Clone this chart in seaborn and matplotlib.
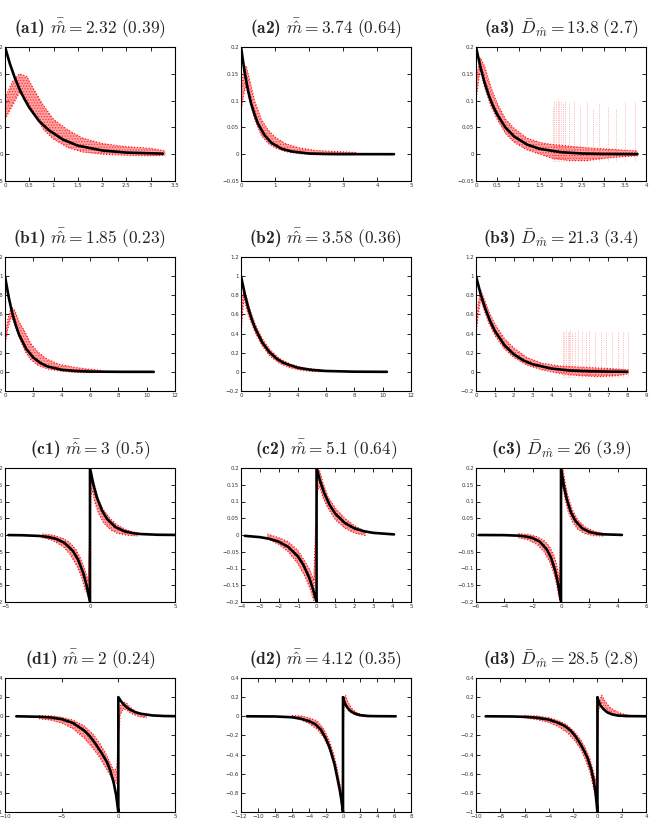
import matplotlib
matplotlib.use("Agg")
import matplotlib.pyplot as plt
import seaborn as sns

# ---- row a ----
a1_bx = [0, 0.1, 0.2, 0.3, 0.4, 0.5, 0.7, 0.9, 1.2, 1.5, 2.0, 2.5, 3.25]
a1_by = [0.2, 0.169, 0.143, 0.121, 0.103, 0.087, 0.062, 0.045, 0.027, 0.016, 0.007, 0.003, 0.001]
a1_rx = [0, 0.15, 0.3, 0.45, 0.6, 0.8, 1.0, 1.3, 1.6, 2.0, 2.5, 3.0, 3.3]
a1_lo = [0.065, 0.09, 0.115, 0.10, 0.075, 0.045, 0.028, 0.012, 0.004, 0.0, -0.002, -0.003, -0.002]
a1_hi = [0.105, 0.135, 0.15, 0.145, 0.12, 0.09, 0.065, 0.045, 0.03, 0.02, 0.014, 0.011, 0.006]

a2_bx = [0, 0.1, 0.2, 0.3, 0.4, 0.5, 0.7, 0.9, 1.2, 1.5, 2.0, 2.5, 3.0, 4.5]
a2_by = [0.2, 0.156, 0.121, 0.094, 0.074, 0.057, 0.035, 0.021, 0.010, 0.005, 0.0013, 0.0004, 0.0001, 0]
a2_rx = [0, 0.08, 0.15, 0.25, 0.4, 0.6, 0.8, 1.0, 1.3, 1.7, 2.2, 2.8, 3.4]
a2_lo = [0.08, 0.11, 0.13, 0.10, 0.065, 0.035, 0.02, 0.012, 0.005, 0.001, -0.001, -0.001, 0]
a2_hi = [0.12, 0.155, 0.165, 0.14, 0.10, 0.065, 0.045, 0.032, 0.02, 0.012, 0.007, 0.005, 0.003]

a3_bx = [0, 0.1, 0.2, 0.3, 0.4, 0.5, 0.7, 0.9, 1.2, 1.5, 2.0, 2.5, 3.0, 3.8]
a3_by = [0.2, 0.164, 0.134, 0.110, 0.090, 0.074, 0.049, 0.033, 0.018, 0.010, 0.0037, 0.0013, 0.0005, 0.0001]
a3_rx = [0, 0.1, 0.2, 0.35, 0.5, 0.7, 0.9, 1.2, 1.5, 1.8, 2.2, 2.6, 3.0, 3.4, 3.8]
a3_lo = [0.1, 0.16, 0.125, 0.09, 0.065, 0.038, 0.022, 0.008, 0.0, -0.008, -0.012, -0.012, -0.008, -0.005, -0.003]
a3_hi = [0.14, 0.18, 0.165, 0.125, 0.095, 0.065, 0.048, 0.03, 0.022, 0.018, 0.015, 0.012, 0.01, 0.008, 0.006]
a3_spike_x = [1.8, 1.84, 1.88, 1.92, 1.96, 2.0, 2.04, 2.1, 2.18, 2.3, 2.45, 2.6, 2.75, 2.9, 3.1, 3.3, 3.5, 3.75]
a3_spike_top = [0.09, 0.1, 0.1, 0.105, 0.1, 0.1, 0.095, 0.1, 0.095, 0.1, 0.09, 0.1, 0.085, 0.095, 0.09, 0.085, 0.1, 0.1]

# ---- row b ----
b1_bx = [0, 0.25, 0.5, 0.75, 1.0, 1.5, 2.0, 2.5, 3.0, 4.0, 5.0, 6.0, 8.0, 10.5]
b1_by = [1.0, 0.788, 0.621, 0.49, 0.386, 0.24, 0.149, 0.093, 0.057, 0.022, 0.009, 0.003, 0.0005, 0]
b1_rx = [0, 0.2, 0.45, 0.7, 1.0, 1.4, 1.8, 2.3, 3.0, 3.8, 4.8, 5.8, 6.8]
b1_lo = [0.28, 0.45, 0.58, 0.5, 0.36, 0.22, 0.13, 0.07, 0.03, 0.01, -0.005, -0.008, -0.005]
b1_hi = [0.36, 0.55, 0.68, 0.64, 0.52, 0.42, 0.30, 0.21, 0.13, 0.08, 0.05, 0.03, 0.015]

b2_bx = [0, 0.25, 0.5, 0.75, 1.0, 1.5, 2.0, 2.5, 3.0, 4.0, 5.0, 6.0, 8.0, 10.3]
b2_by = [1.0, 0.821, 0.675, 0.554, 0.455, 0.307, 0.207, 0.14, 0.094, 0.043, 0.02, 0.009, 0.0018, 0.0003]
b2_rx = [0, 0.1, 0.22, 0.4, 0.7, 1.0, 1.5, 2.0, 2.7, 3.5, 4.5, 5.7]
b2_lo = [0.37, 0.6, 0.78, 0.65, 0.52, 0.41, 0.27, 0.17, 0.09, 0.04, 0.01, 0.0]
b2_hi = [0.47, 0.75, 0.88, 0.78, 0.62, 0.50, 0.35, 0.24, 0.14, 0.08, 0.04, 0.02]

b3_bx = [0, 0.25, 0.5, 0.75, 1.0, 1.5, 2.0, 2.5, 3.0, 4.0, 5.0, 6.0, 7.0, 8.0]
b3_by = [1.0, 0.809, 0.655, 0.53, 0.428, 0.28, 0.184, 0.12, 0.079, 0.034, 0.014, 0.006, 0.0027, 0.0011]
b3_rx = [0, 0.12, 0.25, 0.4, 0.7, 1.0, 1.5, 2.0, 2.7, 3.5, 4.5, 5.5, 6.5, 7.5, 8.1]
b3_lo = [0.38, 0.6, 0.76, 0.66, 0.5, 0.38, 0.24, 0.15, 0.07, 0.02, -0.02, -0.04, -0.05, -0.04, -0.02]
b3_hi = [0.45, 0.72, 0.85, 0.78, 0.62, 0.5, 0.35, 0.25, 0.15, 0.09, 0.06, 0.05, 0.04, 0.03, 0.02]
b3_spike_x = [4.6, 4.68, 4.76, 4.85, 4.92, 5.0, 5.1, 5.25, 5.4, 5.6, 5.8, 6.0, 6.3, 6.6, 6.9, 7.2, 7.5, 7.8, 8.05]
b3_spike_top = [0.42, 0.43, 0.44, 0.43, 0.42, 0.44, 0.43, 0.42, 0.44, 0.43, 0.42, 0.44, 0.43, 0.42, 0.43, 0.42, 0.43, 0.42, 0.43]

# ---- row c ----
c1_bx = [-4.8, -4, -3, -2.5, -2, -1.5, -1.0, -0.7, -0.4, -0.2, 0, 0, 0.2, 0.4, 0.7, 1.0, 1.5, 2.0, 2.5, 3, 4, 5]
c1_by = [-0.0002, -0.0007, -0.0028, -0.0056, -0.0115, -0.0235, -0.048, -0.074, -0.113, -0.150, -0.2,
         0.2, 0.150, 0.113, 0.074, 0.048, 0.0235, 0.0115, 0.0056, 0.0028, 0.0007, 0.0002]
c1_rx = [-2.8, -2.2, -1.6, -1.2, -0.8, -0.5, -0.3, -0.1, 0.05, 0.15, 0.3, 0.5, 0.8, 1.2, 1.6, 2.2, 2.8]
c1_lo = [-0.008, -0.016, -0.034, -0.056, -0.09, -0.125, -0.16, -0.185, 0.12, 0.13, 0.095, 0.065, 0.036, 0.016, 0.005, -0.001, -0.003]
c1_hi = [0.003, 0.0, -0.01, -0.022, -0.045, -0.075, -0.105, -0.135, 0.175, 0.17, 0.145, 0.105, 0.075, 0.048, 0.03, 0.014, 0.006]

c2_bx = [-3.8, -3, -2.5, -2, -1.5, -1.0, -0.7, -0.4, -0.2, 0, 0, 0.2, 0.4, 0.7, 1.0, 1.5, 2.0, 2.5, 3, 4.1]
c2_by = [-0.0025, -0.0064, -0.0113, -0.020, -0.0357, -0.063, -0.089, -0.126, -0.159, -0.2,
         0.2, 0.159, 0.126, 0.089, 0.063, 0.0357, 0.020, 0.0113, 0.0064, 0.0018]
c2_rx = [-2.6, -2, -1.5, -1.0, -0.6, -0.35, -0.15, 0.05, 0.15, 0.35, 0.6, 1.0, 1.5, 2.0, 2.6]
c2_lo = [-0.012, -0.028, -0.05, -0.085, -0.125, -0.16, -0.195, 0.13, 0.145, 0.11, 0.08, 0.045, 0.02, 0.006, -0.002]
c2_hi = [0.003, -0.008, -0.02, -0.045, -0.08, -0.105, -0.135, 0.195, 0.195, 0.155, 0.115, 0.08, 0.05, 0.028, 0.01]

c3_bx = [-5.8, -4, -3, -2.5, -2, -1.5, -1.0, -0.7, -0.4, -0.2, 0, 0, 0.2, 0.4, 0.7, 1.0, 1.5, 2.0, 2.5, 3, 4.3]
c3_by = [0, -0.0004, -0.002, -0.0043, -0.0092, -0.0199, -0.043, -0.068, -0.108, -0.147, -0.2,
         0.2, 0.147, 0.108, 0.068, 0.043, 0.0199, 0.0092, 0.0043, 0.002, 0.0002]
c3_rx = [-3.0, -2.3, -1.7, -1.2, -0.8, -0.5, -0.3, -0.1, 0.05, 0.15, 0.3, 0.5, 0.8, 1.2, 1.7, 2.3, 3.0]
c3_lo = [-0.008, -0.015, -0.028, -0.05, -0.08, -0.115, -0.15, -0.195, 0.14, 0.14, 0.105, 0.07, 0.04, 0.016, 0.004, -0.002, -0.003]
c3_hi = [0.004, 0.002, -0.005, -0.016, -0.035, -0.06, -0.09, -0.135, 0.2, 0.195, 0.155, 0.115, 0.075, 0.045, 0.024, 0.012, 0.005]

# ---- row d ----
d1_bx = [-9, -7, -6, -5, -4, -3, -2.5, -2, -1.5, -1.0, -0.7, -0.4, -0.2, 0,
         0, 0.25, 0.5, 0.75, 1.0, 1.5, 2.0, 3.0, 4.0, 5.0]
d1_by = [0, -0.005, -0.012, -0.03, -0.07, -0.15, -0.21, -0.29, -0.38, -0.48, -0.57, -0.7, -0.82, -1.0,
         0.2, 0.155, 0.12, 0.093, 0.072, 0.043, 0.026, 0.009, 0.003, 0.001]
d1_rx = [-7, -6, -5, -4, -3, -2.2, -1.6, -1.1, -0.7, -0.4, -0.15, 0.15, 0.4, 0.7, 1.0, 1.4, 1.9, 2.5]
d1_lo = [-0.025, -0.04, -0.07, -0.13, -0.23, -0.34, -0.44, -0.54, -0.62, -0.68, -0.7, 0.01, 0.07, 0.07, 0.04, 0.015, -0.005, -0.015]
d1_hi = [0.005, 0.005, -0.01, -0.04, -0.1, -0.19, -0.29, -0.39, -0.49, -0.57, -0.54, 0.11, 0.15, 0.14, 0.1, 0.06, 0.03, 0.012]

d2_bx = [-11.3, -8, -6, -5, -4, -3.3, -2.6, -2.1, -1.6, -1.3, -1.0, -0.7, -0.4, -0.2, 0,
         0, 0.2, 0.4, 0.7, 1.0, 1.5, 2.0, 3.0, 4.0, 6.2]
d2_by = [0, -0.002, -0.01, -0.025, -0.05, -0.08, -0.14, -0.22, -0.32, -0.41, -0.5, -0.63, -0.76, -0.87, -1.0,
         0.2, 0.14, 0.105, 0.07, 0.047, 0.025, 0.012, 0.003, 0.001, 0.0]
d2_rx = [-6, -5, -4, -3, -2.2, -1.6, -1.1, -0.7, -0.35, -0.1, 0.1, 0.3, 0.6, 1.0, 1.5, 2.2, 3.0]
d2_lo = [-0.015, -0.035, -0.075, -0.14, -0.23, -0.35, -0.49, -0.64, -0.81, -0.96, 0.09, 0.13, 0.065, 0.035, 0.012, -0.002, -0.006]
d2_hi = [0.008, 0.004, -0.015, -0.05, -0.14, -0.26, -0.39, -0.54, -0.71, -0.84, 0.2, 0.22, 0.145, 0.085, 0.045, 0.017, 0.006]

d3_bx = [-9.2, -7, -6, -5, -4, -3.3, -2.7, -2.2, -1.8, -1.4, -1.1, -0.8, -0.5, -0.3, -0.15, 0,
         0, 0.15, 0.3, 0.5, 0.8, 1.2, 1.7, 2.5, 4.0]
d3_by = [0, -0.002, -0.006, -0.015, -0.035, -0.065, -0.1, -0.15, -0.21, -0.29, -0.36, -0.44, -0.56, -0.68, -0.8, -1.0,
         0.2, 0.14, 0.105, 0.075, 0.042, 0.02, 0.007, 0.002, 0.0]
d3_rx = [-6, -5, -4, -3.2, -2.5, -1.9, -1.4, -1.0, -0.6, -0.3, -0.1, 0.1, 0.35, 0.6, 1.0, 1.5, 2.0, 2.6]
d3_lo = [-0.015, -0.035, -0.065, -0.11, -0.17, -0.25, -0.34, -0.45, -0.59, -0.76, -0.89, 0.07, 0.14, 0.09, 0.045, 0.015, 0.0, -0.008]
d3_hi = [0.008, 0.004, -0.015, -0.045, -0.09, -0.16, -0.24, -0.33, -0.45, -0.59, -0.69, 0.13, 0.22, 0.165, 0.095, 0.055, 0.028, 0.012]

# ---- titles and axes ----
tags = ["(a1)", "(a2)", "(a3)", "(b1)", "(b2)", "(b3)", "(c1)", "(c2)", "(c3)", "(d1)", "(d2)", "(d3)"]
maths = [
    r"$\bar{\hat{m}} = 2.32\ (0.39)$",
    r"$\bar{\hat{m}} = 3.74\ (0.64)$",
    r"$\bar{D}_{\hat{m}} = 13.8\ (2.7)$",
    r"$\bar{\hat{m}} = 1.85\ (0.23)$",
    r"$\bar{\hat{m}} = 3.58\ (0.36)$",
    r"$\bar{D}_{\hat{m}} = 21.3\ (3.4)$",
    r"$\bar{\hat{m}} = 3\ (0.5)$",
    r"$\bar{\hat{m}} = 5.1\ (0.64)$",
    r"$\bar{D}_{\hat{m}} = 26\ (3.9)$",
    r"$\bar{\hat{m}} = 2\ (0.24)$",
    r"$\bar{\hat{m}} = 4.12\ (0.35)$",
    r"$\bar{D}_{\hat{m}} = 28.5\ (2.8)$",
]

xticks_a1 = [0, 0.5, 1, 1.5, 2, 2.5, 3, 3.5]
xlabels_a1 = ["0", "0.5", "1", "1.5", "2", "2.5", "3", "3.5"]
xticks_a2 = [0, 1, 2, 3, 4, 5]
xlabels_a2 = ["0", "1", "2", "3", "4", "5"]
xticks_a3 = [0, 0.5, 1, 1.5, 2, 2.5, 3, 3.5, 4]
xlabels_a3 = ["0", "0.5", "1", "1.5", "2", "2.5", "3", "3.5", "4"]
yticks_a = [-0.05, 0, 0.05, 0.1, 0.15, 0.2]
ylabels_a = ["\u22120.05", "0", "0.05", "0.1", "0.15", "0.2"]

xticks_b12 = [0, 2, 4, 6, 8, 10, 12]
xlabels_b12 = ["0", "2", "4", "6", "8", "10", "12"]
xticks_b3 = [0, 1, 2, 3, 4, 5, 6, 7, 8, 9]
xlabels_b3 = ["0", "1", "2", "3", "4", "5", "6", "7", "8", "9"]
yticks_b = [-0.2, 0, 0.2, 0.4, 0.6, 0.8, 1, 1.2]
ylabels_b = ["\u22120.2", "0", "0.2", "0.4", "0.6", "0.8", "1", "1.2"]

xticks_c1 = [-5, 0, 5]
xlabels_c1 = ["\u22125", "0", "5"]
xticks_c2 = [-4, -3, -2, -1, 0, 1, 2, 3, 4, 5]
xlabels_c2 = ["\u22124", "\u22123", "\u22122", "\u22121", "0", "1", "2", "3", "4", "5"]
xticks_c3 = [-6, -4, -2, 0, 2, 4, 6]
xlabels_c3 = ["\u22126", "\u22124", "\u22122", "0", "2", "4", "6"]
yticks_c = [-0.2, -0.15, -0.1, -0.05, 0, 0.05, 0.1, 0.15, 0.2]
ylabels_c = ["\u22120.2", "\u22120.15", "\u22120.1", "\u22120.05", "0", "0.05", "0.1", "0.15", "0.2"]

xticks_d1 = [-10, -5, 0, 5]
xlabels_d1 = ["\u221210", "\u22125", "0", "5"]
xticks_d2 = [-12, -10, -8, -6, -4, -2, 0, 2, 4, 6, 8]
xlabels_d2 = ["\u221212", "\u221210", "\u22128", "\u22126", "\u22124", "\u22122", "0", "2", "4", "6", "8"]
xticks_d3 = [-10, -8, -6, -4, -2, 0, 2, 4]
xlabels_d3 = ["\u221210", "\u22128", "\u22126", "\u22124", "\u22122", "0", "2", "4"]
yticks_d = [-1, -0.8, -0.6, -0.4, -0.2, 0, 0.2, 0.4]
ylabels_d = ["\u22121", "\u22120.8", "\u22120.6", "\u22120.4", "\u22120.2", "0", "0.2", "0.4"]

panels = [
    (a1_bx, a1_by, a1_rx, a1_lo, a1_hi, (0, 3.5), (-0.05, 0.2), xticks_a1, xlabels_a1, yticks_a, ylabels_a),
    (a2_bx, a2_by, a2_rx, a2_lo, a2_hi, (0, 5), (-0.05, 0.2), xticks_a2, xlabels_a2, yticks_a, ylabels_a),
    (a3_bx, a3_by, a3_rx, a3_lo, a3_hi, (0, 4), (-0.05, 0.2), xticks_a3, xlabels_a3, yticks_a, ylabels_a),
    (b1_bx, b1_by, b1_rx, b1_lo, b1_hi, (0, 12), (-0.2, 1.2), xticks_b12, xlabels_b12, yticks_b, ylabels_b),
    (b2_bx, b2_by, b2_rx, b2_lo, b2_hi, (0, 12), (-0.2, 1.2), xticks_b12, xlabels_b12, yticks_b, ylabels_b),
    (b3_bx, b3_by, b3_rx, b3_lo, b3_hi, (0, 9), (-0.2, 1.2), xticks_b3, xlabels_b3, yticks_b, ylabels_b),
    (c1_bx, c1_by, c1_rx, c1_lo, c1_hi, (-5, 5), (-0.2, 0.2), xticks_c1, xlabels_c1, yticks_c, ylabels_c),
    (c2_bx, c2_by, c2_rx, c2_lo, c2_hi, (-4, 5), (-0.2, 0.2), xticks_c2, xlabels_c2, yticks_c, ylabels_c),
    (c3_bx, c3_by, c3_rx, c3_lo, c3_hi, (-6, 6), (-0.2, 0.2), xticks_c3, xlabels_c3, yticks_c, ylabels_c),
    (d1_bx, d1_by, d1_rx, d1_lo, d1_hi, (-10, 5), (-1, 0.4), xticks_d1, xlabels_d1, yticks_d, ylabels_d),
    (d2_bx, d2_by, d2_rx, d2_lo, d2_hi, (-12, 8), (-1, 0.4), xticks_d2, xlabels_d2, yticks_d, ylabels_d),
    (d3_bx, d3_by, d3_rx, d3_lo, d3_hi, (-10, 4), (-1, 0.4), xticks_d3, xlabels_d3, yticks_d, ylabels_d),
]

spikes = {2: (a3_spike_x, a3_spike_top, -0.012), 5: (b3_spike_x, b3_spike_top, -0.05)}

sns.set_style("ticks")
plt.rcParams["mathtext.fontset"] = "cm"
plt.rcParams["font.family"] = ["DejaVu Sans"]
plt.rcParams["hatch.linewidth"] = 0.7
plt.rcParams["hatch.color"] = "red"

W, H = 652, 835
fig = plt.figure(figsize=(W / 100, H / 100), dpi=100)
fig.patch.set_facecolor("white")

col_left = [5, 241, 476]
row_top = [47, 257, 468, 678]
aw, ah = 170, 134

for i, (bx, by, rx, lo, hi, xl, yl, xt, xtl, yt, ytl) in enumerate(panels):
    r, c = divmod(i, 3)
    ax = fig.add_axes([col_left[c] / W, 1 - (row_top[r] + ah) / H, aw / W, ah / H])

    # red cloud of sampled responses
    ax.fill_between(rx, lo, hi, facecolor=(1.0, 0.3, 0.3, 0.5),
                    edgecolor=(1.0, 0.0, 0.0, 0.6), hatch="......", linewidth=0)
    ax.plot(rx, lo, color="red", lw=0.8, ls=":", alpha=0.95)
    ax.plot(rx, hi, color="red", lw=0.8, ls=":", alpha=0.95)
    if i in spikes:
        sx, stop, sbot = spikes[i]
        ax.vlines(sx, sbot, stop, colors="red", linestyles=":", lw=0.5, alpha=0.5)

    # true response
    sns.lineplot(x=bx, y=by, ax=ax, color="black", lw=1.9, sort=False, estimator=None)

    ax.set_xlim(*xl)
    ax.set_ylim(*yl)
    ax.set_xticks(xt)
    ax.set_xticklabels(xtl)
    ax.set_yticks(yt)
    ax.set_yticklabels(ytl)
    ax.tick_params(direction="in", top=True, right=True, length=3, width=0.6,
                   labelsize=4, pad=1.5, colors="black", labelcolor="#333333")
    for sp in ax.spines.values():
        sp.set_linewidth(0.8)
        sp.set_color("black")
    ax.set_title(tags[i] + " " + maths[i], fontsize=12.5, pad=9, fontfamily="cmb10")

fig.savefig("out.png", dpi=100, facecolor="white")
